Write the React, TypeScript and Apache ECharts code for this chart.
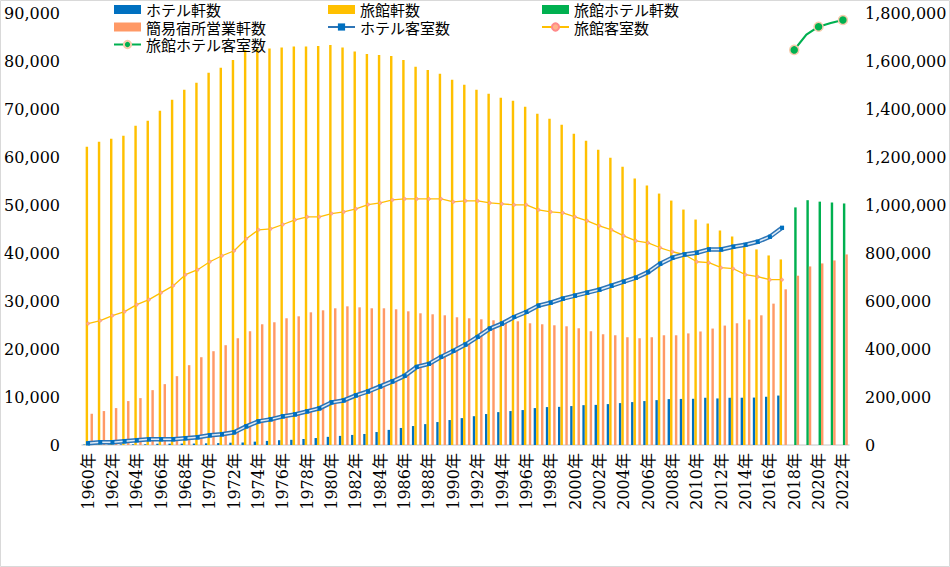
import React, { useEffect, useRef } from "react";
import * as echarts from "echarts";

const years = [
  "1960年","1961年","1962年","1963年","1964年","1965年","1966年","1967年","1968年","1969年",
  "1970年","1971年","1972年","1973年","1974年","1975年","1976年","1977年","1978年","1979年",
  "1980年","1981年","1982年","1983年","1984年","1985年","1986年","1987年","1988年","1989年",
  "1990年","1991年","1992年","1993年","1994年","1995年","1996年","1997年","1998年","1999年",
  "2000年","2001年","2002年","2003年","2004年","2005年","2006年","2007年","2008年","2009年",
  "2010年","2011年","2012年","2013年","2014年","2015年","2016年","2017年","2018年","2019年",
  "2020年","2021年","2022年",
];

// ホテル軒数 (1960-2017)
const hotelCount = [
  100, 110, 120, 130, 140, 150, 270, 280, 290, 300,
  350, 400, 480, 520, 700, 850, 1000, 1080, 1250, 1450,
  1700, 1900, 2100, 2300, 2700, 3150, 3550, 3950, 4350, 4780,
  5200, 5600, 6000, 6450, 6850, 7070, 7280, 7690, 7900, 7950,
  8110, 8300, 8360, 8520, 8730, 8940, 9150, 9350, 9560, 9600,
  9630, 9840, 9700, 9840, 9850, 9880, 10050, 10300, null, null,
  null, null, null,
];

// 旅館軒数 (1960-2017)
const ryokanCount = [
  62150, 63190, 63810, 64430, 66510, 67550, 69630, 71920, 74000, 75450,
  77530, 78570, 80230, 82310, 82580, 82580, 82790, 83000, 83000, 83140,
  83350, 82790, 81960, 81480, 81270, 81060, 80230, 78780, 78150, 77320,
  76070, 75030, 74000, 73160, 72330, 71710, 70460, 69010, 67970, 66720,
  64850, 63390, 61520, 59860, 57990, 55500, 54040, 52380, 50920, 49050,
  46970, 46140, 44690, 43440, 41570, 40740, 39490, 38660, null, null,
  null, null, null,
];

// 旅館ホテル軒数 (2018-2022)
const ryokanHotelCount = [
  null, null, null, null, null, null, null, null, null, null,
  null, null, null, null, null, null, null, null, null, null,
  null, null, null, null, null, null, null, null, null, null,
  null, null, null, null, null, null, null, null, null, null,
  null, null, null, null, null, null, null, null, null, null,
  null, null, null, null, null, null, null, null, 49500, 51000,
  50700, 50520, 50320,
];

// 簡易宿所営業軒数 (1960-2022)
const simpleLodgingCount = [
  6510, 7070, 7690, 9150, 9770, 11430, 12680, 14340, 16630, 18290,
  19540, 20790, 22240, 23700, 25150, 25570, 26400, 26810, 27640, 28060,
  28480, 28890, 28680, 28480, 28480, 28270, 27850, 27440, 27230, 27020,
  26610, 26400, 26190, 25980, 25980, 25770, 25360, 25150, 24940, 24730,
  24320, 23700, 23070, 22860, 22450, 22240, 22450, 22860, 22860, 23250,
  23650, 24260, 24880, 25360, 26130, 27020, 29450, 32430, 35270, 37200,
  37830, 38450, 39700,
];

// ホテル客室数 (1960-2017)
const hotelRooms = [
  7100, 11200, 11200, 15400, 19500, 23700, 23700, 23700, 27900, 32000,
  40300, 44500, 52800, 77700, 98500, 106800, 119300, 127600, 140100, 152600,
  177500, 185800, 206600, 223200, 244000, 264800, 288100, 325500, 338000, 367100,
  392000, 418600, 450200, 485100, 505900, 533300, 554100, 580700, 593200, 609800,
  622300, 634800, 647200, 663900, 680500, 697100, 720400, 755300, 780300, 794000,
  801100, 814800, 814800, 826000, 834300, 846800, 867600, 905000, null, null,
  null, null, null,
];

// 旅館客室数 (1960-2017)
const ryokanRooms = [
  505900, 518400, 539200, 555800, 584900, 605700, 634800, 663900, 709600, 730400,
  763600, 788600, 809400, 859300, 896600, 900800, 918700, 938200, 950700, 950700,
  964400, 971300, 983800, 1001800, 1008700, 1021200, 1025400, 1025400, 1025400, 1025400,
  1013000, 1017200, 1017200, 1008700, 1004700, 1000600, 1000600, 979800, 971500, 967300,
  950700, 934100, 913300, 896600, 871700, 850900, 842600, 821800, 805200, 792700,
  763600, 759500, 738700, 734500, 709600, 701300, 688800, 688800, null, null,
  null, null, null,
];

// 旅館ホテル客室数 (2018-2022)
const ryokanHotelRooms = [
  null, null, null, null, null, null, null, null, null, null,
  null, null, null, null, null, null, null, null, null, null,
  null, null, null, null, null, null, null, null, null, null,
  null, null, null, null, null, null, null, null, null, null,
  null, null, null, null, null, null, null, null, null, null,
  null, null, null, null, null, null, null, null, 1646200, 1709800,
  1743000, 1758400, 1770900,
];

const CJK = "'Noto Sans CJK JP', sans-serif";
const SERIF = "'DejaVu Serif', 'Noto Sans CJK JP', serif";

export default function App() {
  const ref = useRef<HTMLDivElement>(null);

  useEffect(() => {
    if (!ref.current) return;
    const chart = echarts.init(ref.current, null, { renderer: "svg" });
    const fmt = (v: number) => v.toLocaleString("en-US");
    const legendBase = {
      orient: "vertical",
      top: 2,
      padding: 0,
      itemGap: 2.5,
      itemWidth: 27,
      itemHeight: 9,
      textStyle: { fontFamily: CJK, fontSize: 15, lineHeight: 15, color: "#000" },
      selectedMode: false,
    };
    chart.setOption({
      animation: false,
      backgroundColor: "#fff",
      graphic: [
        {
          type: "rect",
          shape: { x: 0.5, y: 0.5, width: 949, height: 566 },
          style: { fill: "none", stroke: "#D9D9D9", lineWidth: 1 },
          silent: true,
        },
      ],
      legend: [
        {
          ...legendBase,
          left: 113,
          data: [
            { name: "ホテル軒数", icon: "rect" },
            { name: "簡易宿所営業軒数", icon: "rect" },
            { name: "旅館ホテル客室数" },
          ],
        },
        {
          ...legendBase,
          left: 327,
          data: [{ name: "旅館軒数", icon: "rect" }, { name: "ホテル客室数" }],
        },
        {
          ...legendBase,
          left: 541,
          data: [{ name: "旅館ホテル軒数", icon: "rect" }, { name: "旅館客室数" }],
        },
      ],
      grid: { left: 82, right: 101, top: 13, bottom: 122, containLabel: false },
      xAxis: {
        type: "category",
        data: years,
        boundaryGap: true,
        axisLine: { show: true, lineStyle: { color: "#D9D9D9", width: 1.5 } },
        axisTick: { show: false },
        axisLabel: {
          interval: 1,
          rotate: 90,
          margin: 8,
          fontFamily: SERIF,
          fontSize: 16,
          color: "#000",
        },
        splitLine: { show: false },
      },
      yAxis: [
        {
          type: "value",
          min: 0,
          max: 90000,
          interval: 10000,
          axisLine: { show: false },
          axisTick: { show: false },
          splitLine: { show: false },
          axisLabel: { formatter: fmt, fontFamily: SERIF, fontSize: 16, color: "#000", margin: 22 },
        },
        {
          type: "value",
          min: 0,
          max: 1800000,
          interval: 200000,
          position: "right",
          axisLine: { show: false },
          axisTick: { show: false },
          splitLine: { show: false },
          axisLabel: { formatter: fmt, fontFamily: SERIF, fontSize: 16, color: "#000", margin: 16 },
        },
      ],
      series: [
        {
          name: "ホテル軒数",
          type: "bar",
          data: hotelCount,
          itemStyle: { color: "#0070C0" },
          barGap: "0%",
          barCategoryGap: "20%",
        },
        {
          name: "旅館軒数",
          type: "bar",
          data: ryokanCount,
          itemStyle: { color: "#FFC000" },
          barGap: "0%",
          barCategoryGap: "20%",
        },
        {
          name: "旅館ホテル軒数",
          type: "bar",
          data: ryokanHotelCount,
          itemStyle: { color: "#00B050" },
          barGap: "0%",
          barCategoryGap: "20%",
        },
        {
          name: "簡易宿所営業軒数",
          type: "bar",
          data: simpleLodgingCount,
          itemStyle: { color: "#FF9966" },
          barGap: "0%",
          barCategoryGap: "20%",
        },
        {
          name: "旅館客室数",
          type: "line",
          yAxisIndex: 1,
          data: ryokanRooms,
          lineStyle: { color: "#FFC000", width: 1.3 },
          itemStyle: { color: "#FFB38A", borderColor: "#FF8A8A", borderWidth: 0.6 },
          symbol: "circle",
          symbolSize: 3,
          z: 3,
        },
        {
          name: "ホテル客室数",
          type: "line",
          yAxisIndex: 1,
          data: hotelRooms,
          lineStyle: { color: "#2E75B6", width: 4.5 },
          itemStyle: { color: "#0070C0" },
          symbol: "rect",
          symbolSize: 4,
          z: 4,
        },
        {
          name: "_hotelRoomsCore",
          type: "line",
          yAxisIndex: 1,
          data: hotelRooms,
          lineStyle: { color: "#DDEBF7", width: 1.5 },
          itemStyle: { color: "#0070C0" },
          symbol: "rect",
          symbolSize: 4,
          silent: true,
          z: 5,
        },
        {
          name: "旅館ホテル客室数",
          type: "line",
          yAxisIndex: 1,
          data: ryokanHotelRooms,
          lineStyle: { color: "#00B050", width: 2.2 },
          itemStyle: { color: "#00B050", borderColor: "#F8CBAD", borderWidth: 1.5 },
          symbol: "circle",
          symbolSize: 9,
          z: 6,
        },
      ],
    });
    return () => chart.dispose();
  }, []);

  return (
    <div
      ref={ref}
      style={{ position: "fixed", left: 0, top: 0, width: 950, height: 567, background: "#fff" }}
    />
  );
}
